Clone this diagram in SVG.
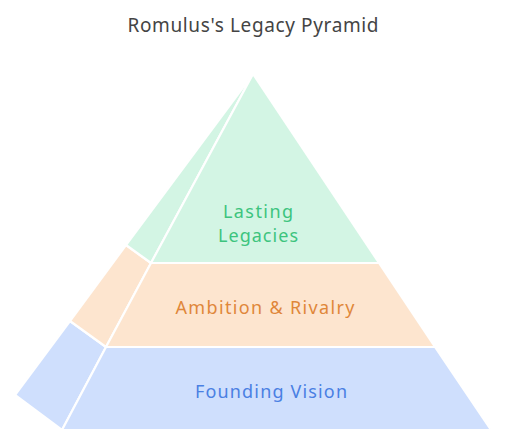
<svg xmlns="http://www.w3.org/2000/svg" width="506" height="445" viewBox="0 0 506 445">
<style>
.face{stroke:#ffffff;stroke-width:2.2;stroke-linejoin:round}
.lbl{font-family:"Noto Sans","Open Sans",sans-serif;font-size:18px;text-anchor:middle}
.g .face{fill:#d3f5e4}
.o .face{fill:#fde5cf}
.b .face{fill:#cfdffd}
.g text{fill:#3dc47e}
.o text{fill:#e0873a}
.b text{fill:#4a80e3}
</style>
<rect width="506" height="445" fill="#ffffff"/>
<text id="title" x="253" y="32" class="lbl" style="fill:#444444;font-size:19px" textLength="251" lengthAdjust="spacing">Romulus's Legacy Pyramid</text>
<g id="founding-vision" class="b">
<polygon class="face" points="70,321 106,347 62,430 15,395"/>
<polygon class="face" points="106,347 435,347 491,430 62,430"/>
<text class="lbl" x="271" y="398" textLength="152" lengthAdjust="spacing">Founding Vision</text>
</g>
<g id="ambition-rivalry" class="o">
<polygon class="face" points="126,245 151,263 106,347 70,321"/>
<polygon class="face" points="151,263 379,263 435,347 106,347"/>
<text class="lbl" x="265" y="314" textLength="179" lengthAdjust="spacing">Ambition &amp; Rivalry</text>
</g>
<g id="lasting-legacies" class="g">
<polygon class="face" points="253,74 151,263 126,245"/>
<polygon class="face" points="253,74 379,263 151,263"/>
<text class="lbl" x="258" y="218" textLength="70" lengthAdjust="spacing">Lasting</text>
<text class="lbl" x="258" y="242" textLength="80" lengthAdjust="spacing">Legacies</text>
</g>
</svg>
